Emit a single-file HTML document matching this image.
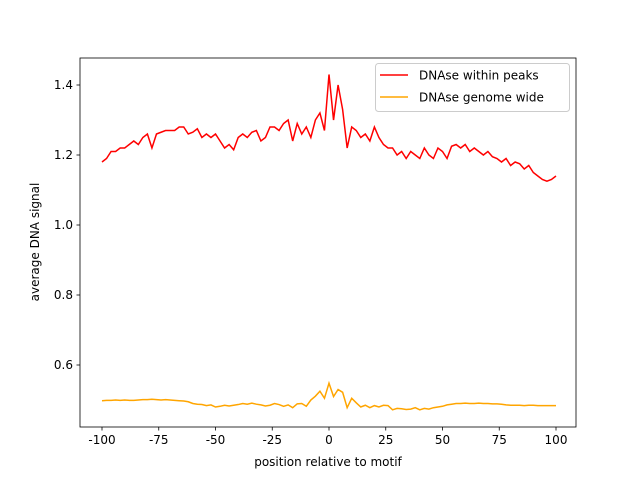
<!DOCTYPE html>
<html><head><meta charset="utf-8"><style>
body{margin:0;background:#fff;font-family:"DejaVu Sans","Liberation Sans",sans-serif;}
</style></head><body>
<svg id="chart" width="640" height="480" xmlns="http://www.w3.org/2000/svg" font-family="DejaVu Sans, Liberation Sans, sans-serif" font-size="12"></svg>
<script>
const xStart=-100, xStep=2;
const peaksSeries=[1.18,1.19,1.21,1.21,1.22,1.22,1.23,1.24,1.23,1.25,1.26,1.22,1.26,1.265,1.27,1.27,1.27,1.28,1.28,1.26,1.265,1.275,1.25,1.26,1.25,1.26,1.24,1.22,1.23,1.215,1.25,1.26,1.25,1.265,1.27,1.24,1.25,1.28,1.28,1.27,1.29,1.30,1.24,1.29,1.26,1.28,1.25,1.30,1.32,1.27,1.43,1.30,1.40,1.33,1.22,1.28,1.27,1.25,1.26,1.24,1.28,1.25,1.23,1.22,1.22,1.20,1.21,1.19,1.21,1.20,1.19,1.22,1.20,1.19,1.22,1.21,1.19,1.225,1.23,1.22,1.23,1.21,1.22,1.21,1.20,1.21,1.195,1.19,1.18,1.19,1.17,1.18,1.175,1.16,1.17,1.15,1.14,1.13,1.125,1.13,1.14];
const genomeSeries=[0.498,0.499,0.499,0.500,0.499,0.500,0.499,0.499,0.500,0.501,0.501,0.502,0.501,0.500,0.501,0.500,0.499,0.498,0.497,0.495,0.490,0.488,0.487,0.484,0.486,0.480,0.482,0.485,0.483,0.485,0.487,0.490,0.488,0.491,0.488,0.486,0.483,0.485,0.490,0.487,0.482,0.486,0.478,0.489,0.490,0.482,0.500,0.511,0.525,0.505,0.548,0.510,0.530,0.522,0.478,0.505,0.492,0.480,0.485,0.478,0.484,0.480,0.485,0.484,0.472,0.476,0.475,0.473,0.474,0.478,0.472,0.476,0.474,0.478,0.480,0.482,0.486,0.488,0.490,0.490,0.491,0.490,0.490,0.491,0.490,0.490,0.489,0.489,0.488,0.486,0.485,0.485,0.485,0.484,0.485,0.485,0.484,0.484,0.484,0.484,0.484];
const xTicks=[-100,-75,-50,-25,0,25,50,75,100];
const yTicks=[0.6,0.8,1.0,1.2,1.4];
const legendLabels=["DNAse within peaks","DNAse genome wide"];
const NS="http://www.w3.org/2000/svg";
const svg=document.getElementById('chart');
const L=80,R=576,T=58,B=427;
const xs=v=>102+(v+100)*(556-102)/200;
const ys=v=>155-(v-1.2)*350;
function mk(tag,attrs,parent){const e=document.createElementNS(NS,tag);for(const k in attrs)e.setAttribute(k,attrs[k]);(parent||svg).appendChild(e);return e;}
function line(data,color,name){
  const p=mk('polyline',{points:data.map((v,i)=>xs(xStart+i*xStep)+','+ys(v)).join(' '),fill:'none',stroke:color,'stroke-width':1.5});
  
  
}
line(peaksSeries,'#ff0000','series-dnase-within-peaks');
line(genomeSeries,'#ffa500','series-dnase-genome-wide');
const frame=mk('rect',{x:L,y:T,width:R-L,height:B-T,fill:'none',stroke:'#000','stroke-width':0.8});


xTicks.forEach(t=>{
  const x=xs(t);
  mk('line',{x1:x,x2:x,y1:B,y2:B+3.5,stroke:'#000','stroke-width':0.8});
  const tx=mk('text',{x:x,y:B+17,'text-anchor':'middle',fill:'#000'});tx.textContent=t;
  
  
});
yTicks.forEach(t=>{
  const y=ys(t);
  mk('line',{x1:L-3.5,x2:L,y1:y,y2:y,stroke:'#000','stroke-width':0.8});
  const tx=mk('text',{x:L-7,y:y+4,'text-anchor':'end',fill:'#000'});tx.textContent=t.toFixed(1);
  
  
});
const xt=mk('text',{x:(L+R)/2,y:466,'text-anchor':'middle'});xt.textContent='position relative to motif';


const yt=mk('text',{x:0,y:0,'text-anchor':'middle',transform:'translate(39,242) rotate(-90)'});yt.textContent='average DNA signal';


const lg=mk('g',{});


mk('rect',{x:375.5,y:63.5,width:194,height:48,rx:3,fill:'#fff','fill-opacity':0.8,stroke:'#ccc'},lg);
['#ff0000','#ffa500'].forEach((c,i)=>{
  const y=75+i*22;
  mk('line',{x1:380,x2:408,y1:y,y2:y,stroke:c,'stroke-width':1.5},lg);
  const t=mk('text',{x:419,y:y+4.5,fill:'#000'},lg);t.textContent=legendLabels[i];
  
  
});
</script>
</body></html>
